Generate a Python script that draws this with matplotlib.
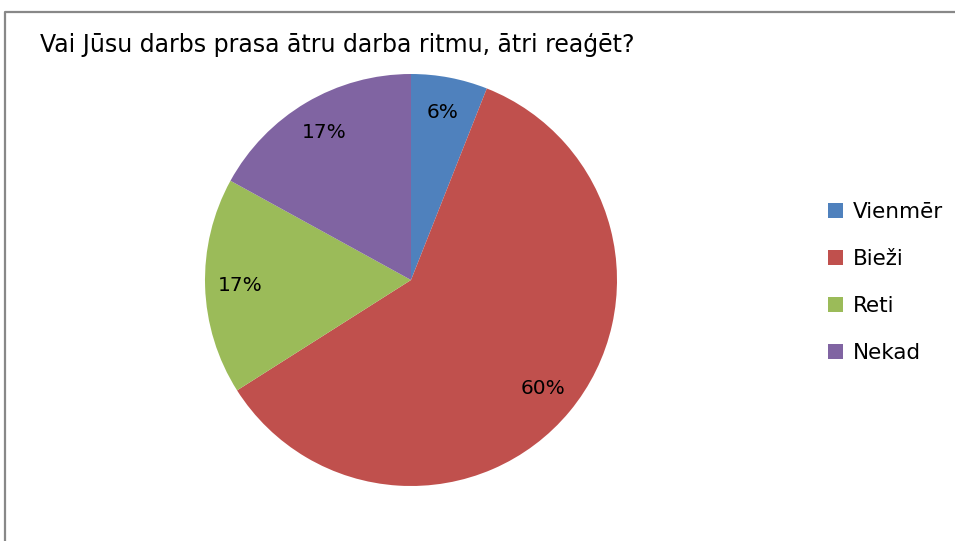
import matplotlib
matplotlib.use("Agg")
import matplotlib.pyplot as plt
from matplotlib.lines import Line2D
from matplotlib.patches import Patch

# survey answers
categories = ["Vienmēr", "Bieži", "Reti", "Nekad"]
shares = [6, 60, 17, 17]
colors = ["#4F81BD", "#C0504D", "#9BBB59", "#8064A2"]
title = "Vai Jūsu darbs prasa ātru darba ritmu, ātri reaģēt?"

plt.rcParams["font.family"] = ["DejaVu Sans"]

W, H = 955, 541
fig = plt.figure(figsize=(W / 100, H / 100), dpi=100)

# pie axes: centre (411, 280) px, radius 206 px
cx, cy, r = 411, 280, 206
ax = fig.add_axes([(cx - r) / W, 1 - (cy + r) / H, 2 * r / W, 2 * r / H])
wedges, texts, autotexts = ax.pie(
    shares, colors=colors, startangle=90, counterclock=False,
    autopct="%d%%", pctdistance=0.83, radius=1,
    textprops={"fontsize": 14.5, "color": "black"},
)
ax.set_xlim(-1, 1)
ax.set_ylim(-1, 1)
ax.set_aspect("equal")
ax.axis("off")

fig.text(40 / W, 1 - 45 / H, title, fontsize=17, va="center", ha="left")

handles = [Patch(facecolor=c, edgecolor="none") for c in colors]
fig.legend(handles, categories, loc="upper left",
           bbox_to_anchor=(809 / W, 1 - 183 / H), frameon=False,
           fontsize=15.5, handlelength=0.7, handleheight=0.7,
           handletextpad=0.45, labelspacing=1.25)

# chart area frame (cut off at right and bottom)
fig.add_artist(Line2D([5 / W, 5 / W, 1.0], [0.0, 1 - 12 / H, 1 - 12 / H],
                      transform=fig.transFigure, color="#888888", lw=1.6))

fig.savefig("out.png", dpi=100)
